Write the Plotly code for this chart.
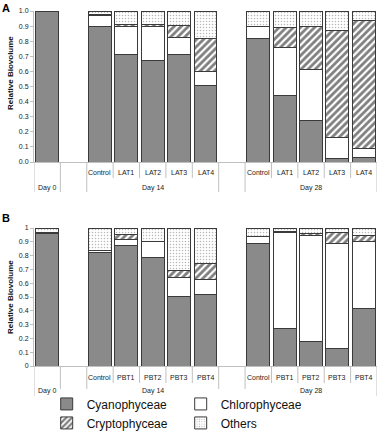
import plotly.graph_objects as go

# ---- categories ----
groups = ["Day 0", "", "Day 14", "Day 14", "Day 14", "Day 14", "Day 14", "",
          "Day 28", "Day 28", "Day 28", "Day 28", "Day 28"]
subs_a = ["", "", "Control", "LAT1", "LAT2", "LAT3", "LAT4", "",
          "Control", "LAT1", "LAT2", "LAT3", "LAT4"]
subs_b = ["", "", "Control", "PBT1", "PBT2", "PBT3", "PBT4", "",
          "Control", "PBT1", "PBT2", "PBT3", "PBT4"]

series_names = ["Cyanophyceae", "Chlorophyceae", "Cryptophyceae", "Others"]

# ---- panel A values (None = empty slot) ----
a_cyano = [0.995, None, 0.895, 0.71, 0.675, 0.715, 0.505, None, 0.815, 0.44, 0.275, 0.025, 0.03]
a_chloro = [0.0, None, 0.075, 0.19, 0.225, 0.11, 0.095, None, 0.08, 0.32, 0.34, 0.14, 0.06]
a_crypto = [0.0, None, 0.005, 0.01, 0.01, 0.08, 0.22, None, 0.005, 0.13, 0.285, 0.705, 0.85]
a_others = [0.005, None, 0.025, 0.09, 0.09, 0.095, 0.18, None, 0.10, 0.11, 0.10, 0.13, 0.06]

# ---- panel B values ----
b_cyano = [0.96, None, 0.825, 0.87, 0.785, 0.505, 0.52, None, 0.885, 0.275, 0.175, 0.125, 0.42]
b_chloro = [0.005, None, 0.015, 0.05, 0.115, 0.14, 0.11, None, 0.05, 0.695, 0.77, 0.765, 0.48]
b_crypto = [0.0, None, 0.0, 0.035, 0.0, 0.045, 0.11, None, 0.0, 0.005, 0.015, 0.075, 0.045]
b_others = [0.035, None, 0.16, 0.045, 0.10, 0.31, 0.26, None, 0.065, 0.025, 0.04, 0.035, 0.055]

FONT = "Liberation Sans, Arial, sans-serif"
GRID = "#c0c0c0"
LINE = dict(color="#3a3a3a", width=1)
markers = [
    dict(color="#8a8a8a", line=LINE),
    dict(color="#ffffff", line=LINE),
    dict(color="#ffffff", line=LINE,
         pattern=dict(shape="/", fgcolor="#000000", bgcolor="#ffffff", size=5, solidity=0.55)),
    dict(color="#ffffff", line=LINE,
         pattern=dict(shape=".", fgcolor="#707070", bgcolor="#ffffff", size=3, solidity=0.2)),
]

xpos = list(range(len(groups)))
n = len(groups)
YDOM_A = [0.5746, 1.0]
YDOM_B = [0.0, 0.3887]

fig = go.Figure()
for name, vals, mk in zip(series_names, [a_cyano, a_chloro, a_crypto, a_others], markers):
    fig.add_trace(go.Bar(x=xpos, y=vals, name=name, marker=mk,
                         xaxis="x", yaxis="y", showlegend=True, legendgroup=name))
for name, vals, mk in zip(series_names, [b_cyano, b_chloro, b_crypto, b_others], markers):
    fig.add_trace(go.Bar(x=xpos, y=vals, name=name, marker=mk,
                         xaxis="x2", yaxis="y2", showlegend=False, legendgroup=name))

xcommon = dict(range=[-0.5, n - 0.5], showline=True, linecolor=GRID, linewidth=1,
               ticks="", showticklabels=False, showgrid=False, zeroline=False, domain=[0, 1])
ycommon = dict(range=[0, 1.0], dtick=0.1, showline=True, linecolor=GRID, linewidth=1,
               ticks="outside", ticklen=3, tickcolor=GRID, showgrid=False, zeroline=False,
               tickfont=dict(family=FONT, size=7, color="#222"))

annotations = []
shapes = []
lab_font = dict(family=FONT, size=7, color="#222")


def add_axis_labels(xref, ydom_bottom, subs, inner_shift, outer_shift, inner_len, outer_len):
    # inner labels
    for i, s in enumerate(subs):
        if s:
            annotations.append(dict(text=s, xref=xref, yref="paper", x=i, y=ydom_bottom,
                                    yshift=-inner_shift, yanchor="middle", showarrow=False,
                                    font=lab_font))
    # outer labels (group centres)
    seen = {}
    for i, g in enumerate(groups):
        if g:
            seen.setdefault(g, []).append(i)
    for g, idx in seen.items():
        annotations.append(dict(text=g, xref=xref, yref="paper", x=sum(idx) / len(idx),
                                y=ydom_bottom, yshift=-outer_shift, yanchor="middle",
                                showarrow=False, font=lab_font))
    # boundary lines
    for b in range(n + 1):
        left = groups[b - 1] if b > 0 else None
        right = groups[b] if b < n else None
        long_line = (left != right) or b == 0 or b == n
        length = outer_len if long_line else inner_len
        shapes.append(dict(type="line", xref=xref, yref="paper", x0=b - 0.5, x1=b - 0.5,
                           y0=ydom_bottom, y1=ydom_bottom - length / 355.0,
                           line=dict(color=GRID, width=1)))


add_axis_labels("x", YDOM_A[0], subs_a, 10, 26, 16, 30)
add_axis_labels("x2", YDOM_B[0], subs_b, 11, 25, 17, 30)

title_font = dict(family=FONT, size=8, color="#111")
annotations += [
    dict(text="<b>Relative Biovolume</b>", xref="paper", yref="paper", x=0, xshift=-24,
         y=(366 - 73) / 355.0, textangle=-90, showarrow=False, font=title_font,
         xanchor="center", yanchor="middle"),
    dict(text="<b>Relative Biovolume</b>", xref="paper", yref="paper", x=0, xshift=-24,
         y=sum(YDOM_B) / 2, textangle=-90, showarrow=False, font=title_font,
         xanchor="center", yanchor="middle"),
    dict(text="<b>A</b>", xref="paper", yref="paper", x=0, xshift=-34, y=1.0, yshift=11,
         xanchor="left", yanchor="top", showarrow=False,
         font=dict(family=FONT, size=11, color="#000")),
    dict(text="<b>B</b>", xref="paper", yref="paper", x=0, xshift=-34, y=YDOM_B[1], yshift=18,
         xanchor="left", yanchor="top", showarrow=False,
         font=dict(family=FONT, size=11, color="#000")),
]

fig.update_layout(
    width=378, height=431,
    margin=dict(l=34, r=1, t=11, b=65, autoexpand=False),
    paper_bgcolor="white", plot_bgcolor="white",
    barmode="stack", bargap=0.13,
    xaxis=dict(anchor="y", **xcommon),
    yaxis=dict(domain=YDOM_A, anchor="x", tickformat=".1f", **ycommon),
    xaxis2=dict(anchor="y2", **xcommon),
    yaxis2=dict(domain=YDOM_B, anchor="x2", **ycommon),
    legend=dict(orientation="h", x=0.037, xanchor="left", y=-0.066, yanchor="top",
                entrywidth=89, traceorder="normal",
                font=dict(family=FONT, size=12, color="#111"), itemwidth=30, tracegroupgap=0),
    annotations=annotations,
    shapes=shapes,
)

fig.write_html("out.html", config={"displayModeBar": False},
               post_script="document.body.style.margin='0';document.body.style.padding='0';")
